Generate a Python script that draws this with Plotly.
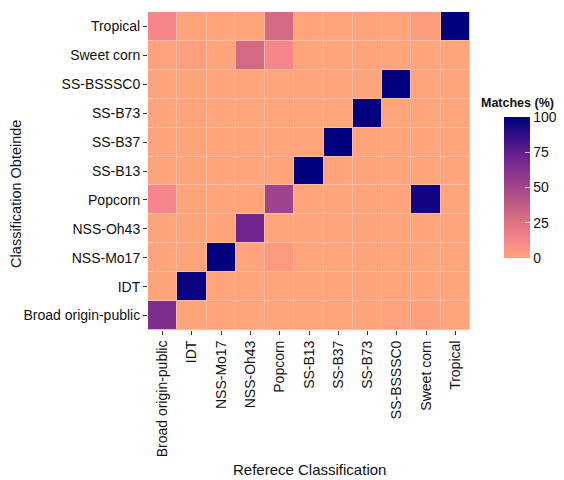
import plotly.graph_objects as go

categories = ["Broad origin-public", "IDT", "NSS-Mo17", "NSS-Oh43", "Popcorn",
              "SS-B13", "SS-B37", "SS-B73", "SS-BSSSC0", "Sweet corn", "Tropical"]

# rows = obtained classification (y), columns = reference classification (x)
matches = {
    "Broad origin-public": [65, 0, 0, 0, 0, 0, 0, 0, 1, 2, 0],
    "IDT":                 [0, 97, 0, 0, 0, 0, 0, 0, 0, 0, 0],
    "NSS-Mo17":            [0, 0, 100, 0, 4, 0, 0, 0, 0, 0, 0],
    "NSS-Oh43":            [0, 0, 0, 70, 0, 0, 0, 0, 0, 0, 0],
    "Popcorn":             [12, 0, 0, 0, 52, 0, 0, 0, 0, 95, 0],
    "SS-B13":              [0, 0, 0, 0, 0, 100, 0, 0, 0, 0, 0],
    "SS-B37":              [0, 0, 0, 0, 0, 0, 100, 0, 0, 0, 0],
    "SS-B73":              [0, 0, 0, 0, 0, 0, 0, 100, 0, 0, 0],
    "SS-BSSSC0":           [0, 0, 0, 0, 0, 0, 0, 0, 100, 0, 0],
    "Sweet corn":          [1, 2, 0, 30, 12, 0, 0, 0, 0, 0, 0],
    "Tropical":            [12, 0, 0, 0, 30, 0, 0, 0, 0, 3, 100],
}
colorbar_ticks = [0, 25, 50, 75, 100]

z = [matches[c] for c in categories]

colorscale = [
    [0.0, "#FFA47B"],
    [0.12, "#F6868A"],
    [0.28, "#D96E80"],
    [0.5, "#A4468A"],
    [0.7, "#71268F"],
    [0.85, "#3A1088"],
    [1.0, "#00007F"],
]

font = "Liberation Sans, Arial, sans-serif"
ink = "#111111"

fig = go.Figure(go.Heatmap(
    z=z, x=categories, y=categories,
    colorscale=colorscale, zmin=0, zmax=100,
    xgap=1, ygap=1,
    colorbar=dict(
        thickness=26, len=141, lenmode="pixels", xpad=0, ypad=0,
        x=1.106, xanchor="left", y=0.448, yanchor="middle",
        tickvals=colorbar_ticks, ticks="inside", ticklen=5, tickcolor="rgba(255,255,255,0.7)",
        outlinewidth=0, tickfont=dict(size=14, color=ink, family=font),
    ),
))

# page body adds an 8px offset, so the figure is 8px smaller than the window
fig.update_layout(
    width=556, height=472,
    margin=dict(l=140, r=94, t=4, b=150, autoexpand=False),
    paper_bgcolor="white", plot_bgcolor="#fbbba6",
    font=dict(family=font, color=ink),
    annotations=[
        dict(text="<b>Matches (%)</b>", xref="paper", yref="paper",
             x=1.028, y=0.714, xanchor="left", yanchor="middle",
             showarrow=False, font=dict(size=12.5, color=ink)),
        dict(text="Referece Classification", xref="paper", yref="paper",
             x=0.5, y=-0.44, xanchor="center", yanchor="middle",
             showarrow=False, font=dict(size=15, color=ink)),
        dict(text="Classification Obteinde", xref="paper", yref="paper",
             x=-0.41, y=0.428, xanchor="center", yanchor="middle", textangle=-90,
             showarrow=False, font=dict(size=14.5, color=ink)),
    ],
)
fig.update_xaxes(
    type="category", tickangle=-90, ticks="outside", ticklen=4, tickcolor="#333",
    tickfont=dict(size=14, color=ink), showgrid=False, zeroline=False,
)
fig.update_yaxes(
    type="category", ticks="outside", ticklen=4, tickcolor="#333",
    tickfont=dict(size=14, color=ink), showgrid=False, zeroline=False,
)

fig.write_html("out.html")
